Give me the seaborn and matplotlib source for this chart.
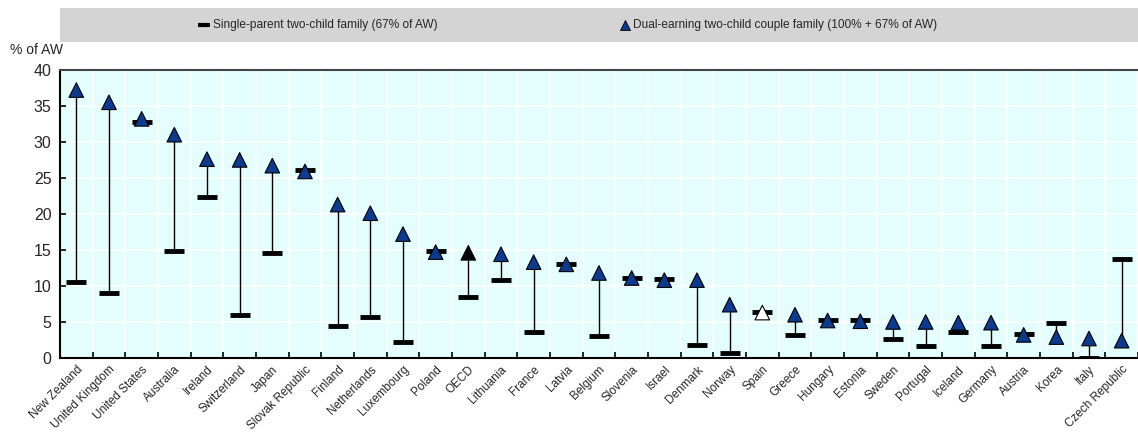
import pandas as pd
import seaborn as sns
import matplotlib
matplotlib.use("Agg")
import matplotlib.pyplot as plt
from matplotlib.lines import Line2D
from matplotlib.patches import Rectangle

countries = ["New Zealand", "United Kingdom", "United States", "Australia", "Ireland",
             "Switzerland", "Japan", "Slovak Republic", "Finland", "Netherlands",
             "Luxembourg", "Poland", "OECD", "Lithuania", "France", "Latvia", "Belgium",
             "Slovenia", "Israel", "Denmark", "Norway", "Spain", "Greece", "Hungary",
             "Estonia", "Sweden", "Portugal", "Iceland", "Germany", "Austria", "Korea",
             "Italy", "Czech Republic"]
single_parent = [10.5, 9.0, 32.8, 14.9, 22.3, 6.0, 14.6, 26.1, 4.4, 5.7,
                 2.2, 14.8, 8.5, 10.8, 3.6, 13.1, 3.1, 11.1, 11.0, 1.8,
                 0.65, 6.4, 3.2, 5.3, 5.3, 2.7, 1.6, 3.6, 1.7, 3.3,
                 4.8, 0.0, 13.7]
dual_earning = [37.2, 35.5, 33.2, 31.0, 27.6, 27.5, 26.7, 25.9, 21.3, 20.1,
                17.2, 14.7, 14.6, 14.4, 13.3, 13.0, 11.8, 11.1, 10.8, 10.8,
                7.4, 6.3, 6.0, 5.2, 5.1, 5.0, 5.0, 4.9, 4.9, 3.2,
                2.9, 2.7, 2.4]
kind = ["country"] * len(countries)
kind[countries.index("OECD")] = "oecd"
kind[countries.index("Spain")] = "spain"

df = pd.DataFrame({"country": countries, "single": single_parent,
                   "dual": dual_earning, "kind": kind})
df["x"] = range(len(df))

sns.set_theme(style="white")
plt.rcParams["font.family"] = ["Liberation Sans", "DejaVu Sans"]

navy = "#0b3a8e"
bg = "#e4fdfd"

fig = plt.figure(figsize=(11.38, 4.48), dpi=100)
ax = fig.add_axes([0.0527, 0.201, 0.9473, 0.643])
ax.set_facecolor(bg)

# connecting lines
ax.vlines(df["x"], df["single"], df["dual"], color="black", lw=1.0, zorder=2)
# single-parent dash
ax.scatter(df["x"], df["single"], marker="_", s=190, linewidths=3.5, color="black", zorder=3)
# dual-earning triangles
sns.scatterplot(data=df, x="x", y="dual", hue="kind", marker="^", s=110,
                palette={"country": navy, "oecd": "black", "spain": "white"},
                edgecolor="black", linewidth=0.8, legend=False, ax=ax, zorder=4)

ax.set_xlim(-0.5, 32.3)
ax.set_ylim(0, 40)
ax.set_yticks(range(0, 41, 5))
ax.set_xticks(df["x"])
ax.set_xticklabels(df["country"], rotation=45, ha="right", rotation_mode="anchor", fontsize=8.5)
ax.set_xticks([i + 0.5 for i in range(len(df))], minor=True)
ax.tick_params(axis="x", which="major", length=0, pad=4)
ax.tick_params(axis="x", which="minor", direction="in", length=4, width=1.2, color="black", bottom=True)
ax.tick_params(axis="y", direction="in", length=4, width=1.2, color="black", left=True,
               labelsize=11.5, pad=6)
ax.grid(True, which="minor", axis="x", color="white", lw=1.2)
ax.grid(True, which="major", axis="y", color="white", lw=1.2)
ax.set_axisbelow(True)
ax.set_xlabel("")
ax.set_ylabel("")

for s in ["left", "bottom"]:
    ax.spines[s].set_color("black")
    ax.spines[s].set_linewidth(1.5)
ax.spines["top"].set_color("#444444")
ax.spines["top"].set_linewidth(1.5)
ax.spines["right"].set_visible(False)

fig.text(0.009, 0.888, "% of AW", fontsize=10, ha="left", va="center")

# legend band
fig.add_artist(Rectangle((0.0527, 0.907), 0.9473, 0.075, transform=fig.transFigure,
                         facecolor="#d4d4d4", edgecolor="none"))
ly = 0.944
fig.add_artist(Line2D([0.1793], [ly], transform=fig.transFigure, marker="_",
                      markersize=9, markeredgewidth=3, color="black"))
fig.text(0.1872, ly, "Single-parent two-child family (67% of AW)", fontsize=8.6,
         ha="left", va="center")
fig.add_artist(Line2D([0.5495], [ly], transform=fig.transFigure, marker="^",
                      markersize=6.5, markerfacecolor=navy, markeredgecolor="black",
                      markeredgewidth=0.6, linestyle="none"))
fig.text(0.5565, ly, "Dual-earning two-child couple family (100% + 67% of AW)", fontsize=8.6,
         ha="left", va="center")

fig.savefig("out.png", dpi=100)
